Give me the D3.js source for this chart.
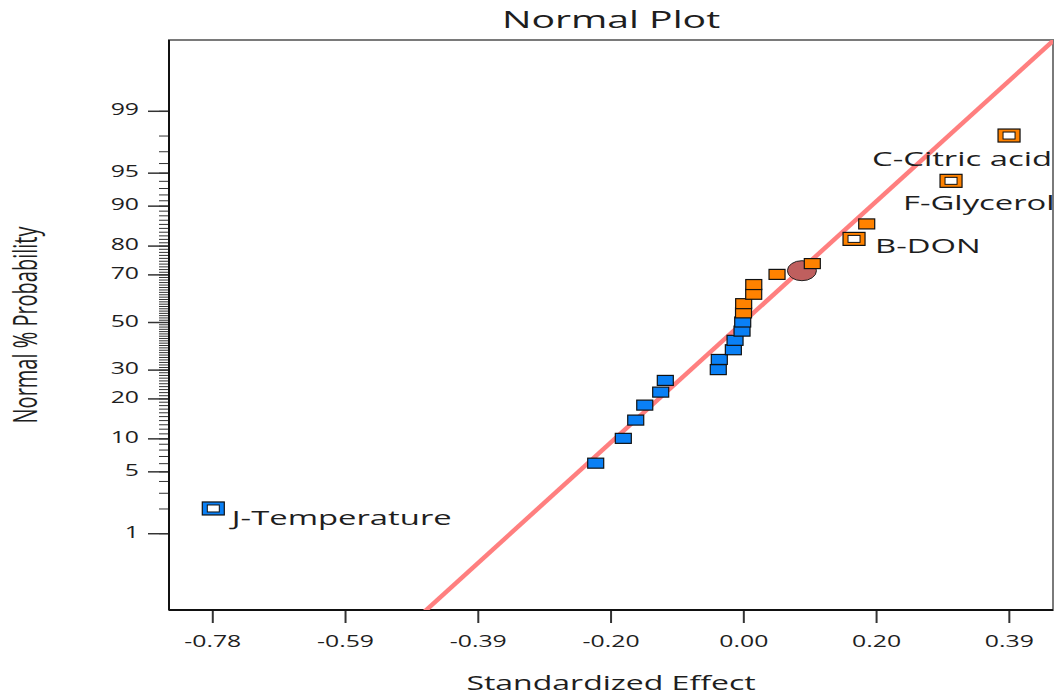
<!DOCTYPE html>
<meta charset="utf-8">
<style>
    body { margin: 0; background: #fff; }
    text { font-family: "Open Sans", sans-serif; fill: #1e1e1e; }
</style>
<script src="https://d3js.org/d3.v7.min.js"></script>
<body>
<div id="chart"></div>
<script>
    // effects, sorted, with their normal % probability
    var effects = [-0.7813, -0.2176, -0.1769, -0.1586, -0.1453, -0.1218, -0.1150, -0.0369, -0.0354,
        -0.0147, -0.0122, -0.0019, -0.0009, 0.0003, 0.0005, 0.0153, 0.0154, 0.0497, 0.1017,
        0.1632, 0.1819, 0.3062, 0.3917];
    var probs = [2, 6, 10, 14, 18, 22, 26, 30, 34, 38, 42, 46, 50, 54, 58, 62, 66, 70, 74, 82, 86, 94, 98];
    var labels = ["J-Temperature", "", "", "", "", "", "", "", "", "", "", "", "", "", "", "", "", "", "",
        "B-DON", "", "F-Glycerol", "C-Citric acid"];

    var centerEffect = [0.0864];
    var centerProb = [71.4];

    // reference line (effect, z)
    var lineEffect = [-0.47, 0.46];
    var lineZ = [-3.19, 3.12];

    var xTicks = [-0.7828, -0.5871, -0.3914, -0.1957, 0, 0.1957, 0.3914];
    var yMajor = [1, 5, 10, 20, 30, 50, 70, 80, 90, 95, 99];
    var yMinor = d3.range(1, 100);

    var SX = 1.6; // the picture is stretched sideways

    var svg = d3.select("#chart").append("svg")
        .attr("width", 1057)
        .attr("height", 700);

    var pLeft = 169, pRight = 1053, pTop = 40, pBottom = 610;

    var x = d3.scaleLinear().domain([-0.8466, 0.4565]).range([pLeft, pRight]);
    var yz = d3.scaleLinear().domain([-3.172, 3.106]).range([pBottom, pTop]);

    function probit(p) {
        var a = [-3.969683028665376e+01, 2.209460984245205e+02, -2.759285104469687e+02, 1.383577518672690e+02, -3.066479806614716e+01, 2.506628277459239e+00];
        var b = [-5.447609879822406e+01, 1.615858368580409e+02, -1.556989798598866e+02, 6.680131188771972e+01, -1.328068155288572e+01];
        var c = [-7.784894002430293e-03, -3.223964580411365e-01, -2.400758277161838e+00, -2.549732539343734e+00, 4.374664141464968e+00, 2.938163982698783e+00];
        var d = [7.784695709041462e-03, 3.224671290700398e-01, 2.445134137142996e+00, 3.754408661907416e+00];
        var plow = 0.02425, q, r;
        if (p < plow) {
            q = Math.sqrt(-2 * Math.log(p));
            return (((((c[0] * q + c[1]) * q + c[2]) * q + c[3]) * q + c[4]) * q + c[5]) / ((((d[0] * q + d[1]) * q + d[2]) * q + d[3]) * q + 1);
        }
        if (p <= 1 - plow) {
            q = p - 0.5; r = q * q;
            return (((((a[0] * r + a[1]) * r + a[2]) * r + a[3]) * r + a[4]) * r + a[5]) * q / (((((b[0] * r + b[1]) * r + b[2]) * r + b[3]) * r + b[4]) * r + 1);
        }
        q = Math.sqrt(-2 * Math.log(1 - p));
        return -(((((c[0] * q + c[1]) * q + c[2]) * q + c[3]) * q + c[4]) * q + c[5]) / ((((d[0] * q + d[1]) * q + d[2]) * q + d[3]) * q + 1);
    }

    // probability scale for the axis
    function y(p) { return yz(probit(p / 100)); }
    y.copy = function() { return y; };
    y.range = function() { return yz.range(); };
    y.domain = function() { return [0.07, 99.9]; };

    svg.append("defs").append("clipPath")
        .attr("id", "clip")
        .append("rect")
        .attr("x", pLeft).attr("y", pTop)
        .attr("width", pRight - pLeft).attr("height", pBottom - pTop);

    // frame
    svg.append("rect")
        .attr("x", pLeft).attr("y", pTop)
        .attr("width", pRight - pLeft).attr("height", pBottom - pTop)
        .attr("fill", "none")
        .attr("stroke", "#7a7a7a")
        .attr("stroke-width", 2);

    // y axis, minor then major ticks
    svg.append("g")
        .attr("transform", "translate(" + pLeft + ",0)")
        .call(d3.axisLeft(y).tickValues(yMinor).tickSize(10).tickSizeOuter(0).tickFormat(""))
        .call(function(g) { g.select(".domain").remove(); })
        .selectAll("line").attr("stroke", "#333");

    var yAx = svg.append("g")
        .attr("transform", "translate(" + pLeft + ",0)")
        .call(d3.axisLeft(y).tickValues(yMajor).tickSize(21).tickSizeOuter(0).tickFormat(d3.format("d")));
    yAx.select(".domain").remove();
    yAx.selectAll("line").attr("stroke", "#333").attr("stroke-width", 1.5);
    yAx.selectAll("text")
        .attr("x", 0).attr("dy", null)
        .attr("transform", "translate(-30,4) scale(" + SX + ",1)")
        .style("font-size", "15.5px").style("font-family", "Open Sans").attr("fill", "#2a2a2a");

    // x axis, labels with a plain hyphen
    var fmt = d3.format(".2f");
    var xAx = svg.append("g")
        .attr("transform", "translate(0," + pBottom + ")")
        .call(d3.axisBottom(x).tickValues(xTicks).tickSize(13).tickSizeOuter(0)
            .tickFormat(function(d) { return fmt(d).replace("\u2212", "-"); }));
    xAx.select(".domain").remove();
    xAx.selectAll("line").attr("stroke", "#333").attr("stroke-width", 2);
    xAx.selectAll("text")
        .attr("y", 0).attr("dy", null)
        .attr("transform", "translate(0,37) scale(" + SX + ",1)")
        .style("font-size", "15.5px").style("font-family", "Open Sans").attr("fill", "#2a2a2a");

    // left and bottom axis lines
    svg.append("line").attr("x1", pLeft).attr("x2", pLeft).attr("y1", pTop).attr("y2", pBottom)
        .attr("stroke", "#111").attr("stroke-width", 2);
    svg.append("line").attr("x1", pLeft).attr("x2", pRight).attr("y1", pBottom).attr("y2", pBottom)
        .attr("stroke", "#111").attr("stroke-width", 2);

    var plot = svg.append("g").attr("clip-path", "url(#clip)");

    var refLine = d3.line()
        .x(function(d) { return x(d[0]); })
        .y(function(d) { return yz(d[1]); });

    plot.append("path")
        .datum(d3.zip(lineEffect, lineZ))
        .attr("d", refLine)
        .attr("fill", "none")
        .attr("stroke", "#ff7f7f")
        .attr("stroke-width", 4.5);

    plot.selectAll(".center")
        .data(d3.zip(centerEffect, centerProb))
        .enter().append("ellipse")
        .attr("cx", function(d) { return x(d[0]); })
        .attr("cy", function(d) { return y(d[1]); })
        .attr("rx", 14.5).attr("ry", 10)
        .attr("fill", "#bf5f5e")
        .attr("stroke", "#222").attr("stroke-width", 1);

    var pts = effects.map(function(e, i) {
        return { e: e, p: probs[i], label: labels[i] };
    });

    function colorOf(d) { return d.e < 0 ? "#0a80f5" : "#ff8200"; }

    var solid = pts.filter(function(d) { return !d.label; });
    var hollow = pts.filter(function(d) { return d.label; });

    plot.selectAll(".pt")
        .data(solid)
        .enter().append("rect")
        .attr("class", "pt")
        .attr("x", function(d) { return x(d.e) - 8; })
        .attr("y", function(d) { return y(d.p) - 5; })
        .attr("width", 16).attr("height", 10)
        .attr("fill", colorOf)
        .attr("stroke", "#111").attr("stroke-width", 1.2);

    var hg = plot.selectAll(".hpt")
        .data(hollow)
        .enter().append("g")
        .attr("class", "hpt")
        .attr("transform", function(d) { return "translate(" + x(d.e) + "," + y(d.p) + ")"; });
    hg.append("rect")
        .attr("x", -11).attr("y", -6.5).attr("width", 22).attr("height", 13)
        .attr("fill", colorOf)
        .attr("stroke", "#111").attr("stroke-width", 1.2);
    hg.append("rect")
        .attr("x", -6).attr("y", -3.5).attr("width", 12).attr("height", 7)
        .attr("fill", "#fff")
        .attr("stroke", "#111").attr("stroke-width", 1);

    // label offsets from their point (left edge, baseline)
    var labelPos = {
        "J-Temperature": [18.5, 17],
        "B-DON": [21, 14],
        "F-Glycerol": [-48, 29],
        "C-Citric acid": [-137, 30]
    };

    svg.selectAll(".lbl")
        .data(hollow)
        .enter().append("text")
        .attr("class", "lbl")
        .attr("transform", function(d) {
            var o = labelPos[d.label];
            return "translate(" + (x(d.e) + o[0]) + "," + (y(d.p) + o[1]) + ") scale(" + SX + ",1)";
        })
        .style("font-size", "20.5px")
        .text(function(d) { return d.label; });

    // titles
    svg.append("text")
        .attr("transform", "translate(611,28) scale(" + SX + ",1)")
        .attr("text-anchor", "middle")
        .style("font-size", "24.5px")
        .text("Normal Plot");

    svg.append("text")
        .attr("transform", "translate(611,690) scale(" + SX + ",1)")
        .attr("text-anchor", "middle")
        .style("font-size", "20px")
        .text("Standardized Effect");

    svg.append("text")
        .attr("transform", "translate(37,325) scale(" + SX + ",1) rotate(-90)")
        .attr("text-anchor", "middle")
        .style("font-size", "20px")
        .text("Normal % Probability");
</script>
</body>
